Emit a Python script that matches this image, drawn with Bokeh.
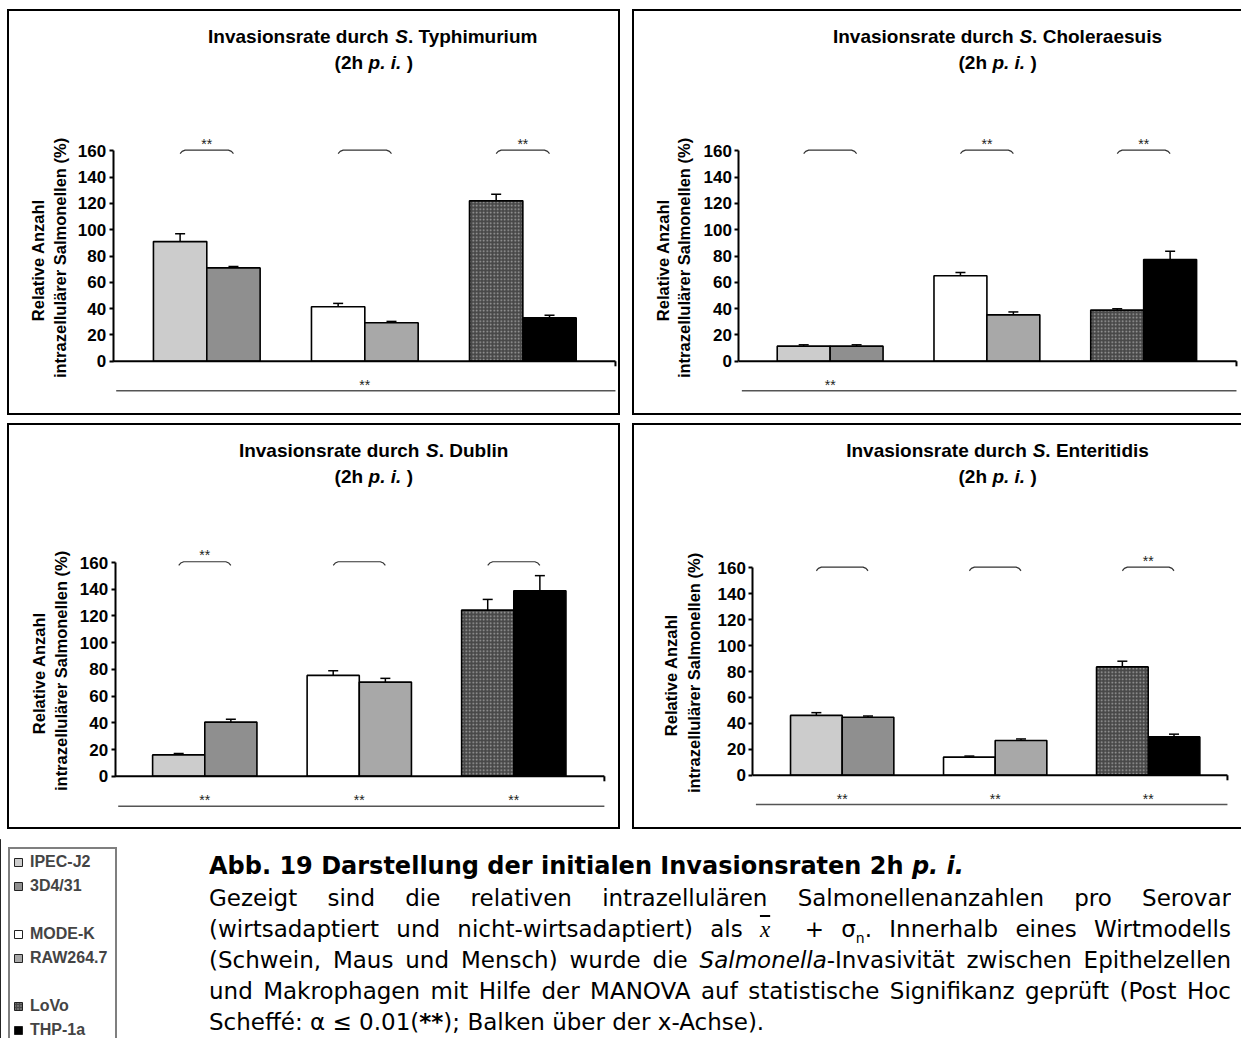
import math
from bokeh.plotting import figure
from bokeh.models import (ColumnDataSource, Whisker, TeeHead, FixedTicker,
                          Legend, LegendItem, Div, Spacer, Range1d)
from bokeh.layouts import row, column
from bokeh.embed import file_html
from bokeh.resources import INLINE
from bokeh.core.properties import value

# ---------------- data ----------------
cell_lines = ["IPEC-J2", "3D4/31", "MODE-K", "RAW264.7", "LoVo", "THP-1a"]
host_models = ["Schwein", "Maus", "Mensch"]
serovars = ["Typhimurium", "Choleraesuis", "Dublin", "Enteritidis"]

typhimurium_mean = [91.0, 71.0, 41.5, 29.3, 122.0, 33.0]
typhimurium_sd = [6.0, 1.0, 2.5, 1.0, 5.0, 2.0]
choleraesuis_mean = [11.5, 11.5, 65.0, 35.3, 38.9, 77.3]
choleraesuis_sd = [1.0, 1.0, 2.5, 2.2, 1.0, 6.4]
dublin_mean = [16.0, 40.5, 75.5, 70.5, 124.4, 138.8]
dublin_sd = [1.0, 2.2, 3.5, 2.8, 8.0, 11.4]
enteritidis_mean = [46.2, 44.7, 14.0, 26.8, 83.6, 29.6]
enteritidis_sd = [2.1, 1.0, 0.8, 1.2, 4.4, 2.1]

# significance epithel vs macrophage within host model (bracket above bars)
typhimurium_pair_sig = [True, False, True]
choleraesuis_pair_sig = [False, True, True]
dublin_pair_sig = [True, False, False]
enteritidis_pair_sig = [False, False, True]
# significance between host models (bar below x axis)
typhimurium_axis_sig = [False, True, False]
choleraesuis_axis_sig = [True, False, False]
dublin_axis_sig = [True, True, True]
enteritidis_axis_sig = [True, True, True]

y_ticks = [0, 20, 40, 60, 80, 100, 120, 140, 160]

# ---------------- styles ----------------
bar_fill = ["#cccccc", "#8f8f8f", "#ffffff", "#a8a8a8", "#484848", "#000000"]
FNAME = "Liberation Sans"
FONT = value(FNAME)
BW = 0.3376  # bar width in group-spacing units
CH = 402     # canvas height of a panel (inside borders)

# Arial/Liberation Sans bold advance widths (1/1000 em)
AW = {' ': 278, '(': 333, ')': 333, '.': 278, '2': 556, 'h': 611, 'p': 611, 'i': 278,
      'I': 278, 'n': 611, 'v': 556, 'a': 556, 's': 556, 'o': 611, 'r': 389, 't': 333,
      'e': 556, 'd': 611, 'u': 611, 'c': 556, 'S': 667, 'T': 611, 'y': 556, 'm': 889,
      'C': 722, 'l': 278, 'D': 722, 'b': 611, 'E': 667}


def tw(s, size):
    return sum(AW.get(c, 556) for c in s) * size / 1000.0


def make_panel(name, means, sds, pair_sig, axis_sig, g, right_border=True):
    cw = g["w"]
    ax_l, ax_r, g0, gs, y160, y0 = g["ax_l"], g["ax_r"], g["g0"], g["gs"], g["y160"], g["y0"]
    ppy = (y0 - y160) / 160.0

    def dx(px):
        return (px - g0) / gs

    def dy(py):
        return 160 + (y160 - py) / ppy

    xa, xb = dx(ax_l), dx(ax_r)   # data x of y-axis and of x-axis end
    bw_px = 4 if right_border else 2
    p = figure(width=cw + bw_px, height=CH + 4,
               x_range=Range1d(dx(0), dx(cw)), y_range=Range1d(dy(CH), dy(0)),
               output_backend="svg", toolbar_location=None, x_axis_location=None,
               min_border_left=0, min_border_right=0,
               min_border_top=0, min_border_bottom=0)
    p.outline_line_color = None
    p.grid.visible = False
    p.background_fill_color = "white"
    p.border_fill_color = "white"
    brd = "2px solid #000"
    p.styles = {"border-top": brd, "border-left": brd, "border-bottom": brd,
                "border-right": brd if right_border else "none"}

    ax = p.yaxis[0]
    ax.fixed_location = xa
    ax.bounds = (0, 160)
    ax.ticker = FixedTicker(ticks=y_ticks)
    ax.minor_tick_line_color = None
    ax.major_tick_in = 0
    ax.major_tick_out = 4
    ax.major_tick_line_width = 2
    ax.axis_line_width = 2
    ax.major_label_standoff = 3
    ax.major_label_text_font = FNAME
    ax.major_label_text_font_size = "17px"
    ax.major_label_text_font_style = "bold"
    ax.major_label_text_color = "black"

    # two-line y label, centred on the 0..160 axis span
    lab_txt = ["Relative  Anzahl", "intrazellulärer Salmonellen (%)"]
    lab_x = [dx(ax_l - g["lab1"]), dx(ax_l - g["lab2"])]
    p.text(x=lab_x, y=[dy(g["laby"])] * 2, text=lab_txt, angle=math.pi / 2,
           text_align="center", text_baseline="middle", text_font=FONT,
           text_font_size="16.5px", text_font_style="bold", text_color="black")

    # bars
    groups = [0, 0, 1, 1, 2, 2]
    side = [-1, 1, -1, 1, -1, 1]
    xs = [gi + si * BW / 2 for gi, si in zip(groups, side)]
    plain = [i for i in range(6) if i != 4]
    src = ColumnDataSource(dict(x=[xs[i] for i in plain], top=[means[i] for i in plain],
                                color=[bar_fill[i] for i in plain]))
    p.vbar(x="x", top="top", bottom=0, width=BW, fill_color="color", line_color="black",
           line_width=1.6, source=src)
    p.vbar(x=[xs[4]], top=[means[4]], bottom=0, width=BW, fill_color=bar_fill[4],
           line_color="black", line_width=1.6, hatch_pattern="dot", hatch_color="#a6a6a6",
           hatch_scale=3.5, hatch_weight=1.3)

    esrc = ColumnDataSource(dict(x=xs, lower=means, upper=[m + s for m, s in zip(means, sds)]))
    p.add_layout(Whisker(source=esrc, base="x", lower="lower", upper="upper",
                         upper_head=TeeHead(size=10, line_width=1.5, line_color="black"),
                         lower_head=None, line_color="black", line_width=1.5))

    # x axis line at 0 with end tick
    p.segment(x0=[xa], y0=[0], x1=[xb], y1=[0], line_color="black", line_width=2)
    p.segment(x0=[xb], y0=[0], x1=[xb], y1=[-5 / ppy], line_color="black", line_width=2)

    # brackets above pairs
    yb = 160.6
    drop = 3.6 / ppy
    cx = [2.0 / gs, 5.0 / gs]
    bxs, bys, sx = [], [], []
    for gi, sig in enumerate(pair_sig):
        xl, xr = gi - BW / 2, gi + BW / 2
        bxs.append([xl, xl + cx[0], xl + cx[1], xr - cx[1], xr - cx[0], xr])
        bys.append([yb - drop, yb - drop * 0.35, yb, yb, yb - drop * 0.35, yb - drop])
        if sig:
            sx.append(gi)
    p.multi_line(xs=bxs, ys=bys, line_color="#333333", line_width=1.2)
    p.text(x=sx, y=[yb + 6.5 / ppy] * len(sx), text=["**"] * len(sx), text_align="center",
           text_baseline="middle", text_font=FONT, text_font_size="14px", text_color="#222222")

    # significance bar below the x axis
    yl = -22.5
    p.segment(x0=[xa + 3.0 / gs], y0=[yl], x1=[xb], y1=[yl],
              line_color="#555555", line_width=1.5)
    ax_sx = [gi for gi, s in enumerate(axis_sig) if s]
    p.text(x=ax_sx, y=[yl + 4.5] * len(ax_sx), text=["**"] * len(ax_sx), text_align="center",
           text_baseline="middle", text_font=FONT, text_font_size="14px", text_color="#222222")

    # two-line title with italic parts
    fs = 19
    ccx = 362
    lines = [
        (24.5, [("Invasionsrate durch ", "bold"), ("S", "bold italic"), (". " + name, "bold")]),
        (50.5, [("(2h ", "bold"), ("p. i.", "bold italic"), (" )", "bold")]),
    ]
    for cy, segs in lines:
        total = sum(tw(s, fs) for s, _ in segs)
        start = ccx - total / 2.0
        for s, st in segs:
            txt = s.strip() if s.strip() else s
            lead = tw(s[:len(s) - len(s.lstrip())], fs)
            p.text(x=[dx(start + lead)], y=[dy(cy)], text=[txt], text_align="left",
                   text_baseline="middle", text_font=FONT, text_font_size=f"{fs}px",
                   text_font_style=st, text_color="black")
            start += tw(s, fs)
    return p


geo1 = dict(w=609, ax_l=103, ax_r=602, g0=196, gs=157.0, y160=138, y0=346.3, lab1=75, lab2=53, laby=244)
geo2 = dict(w=607, ax_l=104, ax_r=600, g0=195, gs=156.25, y160=138, y0=346.3, lab1=76, lab2=55, laby=244)
geo3 = dict(w=609, ax_l=105, ax_r=591, g0=194, gs=153.5, y160=135.7, y0=347.3, lab1=76, lab2=54, laby=243)
geo4 = dict(w=607, ax_l=118, ax_r=591, g0=207, gs=152.5, y160=141, y0=346.3, lab1=82, lab2=59, laby=245)

p1 = make_panel(serovars[0], typhimurium_mean, typhimurium_sd, typhimurium_pair_sig, typhimurium_axis_sig, geo1)
p2 = make_panel(serovars[1], choleraesuis_mean, choleraesuis_sd, choleraesuis_pair_sig, choleraesuis_axis_sig, geo2, right_border=False)
p3 = make_panel(serovars[2], dublin_mean, dublin_sd, dublin_pair_sig, dublin_axis_sig, geo3)
p4 = make_panel(serovars[3], enteritidis_mean, enteritidis_sd, enteritidis_pair_sig, enteritidis_axis_sig, geo4, right_border=False)

# ---------------- legend ----------------
lf = figure(width=125, height=199, output_backend="svg", toolbar_location=None,
            x_axis_location=None, y_axis_location=None, min_border=0,
            x_range=Range1d(0, 1), y_range=Range1d(0, 1))
lf.outline_line_color = None
lf.grid.visible = False
items = []
for i, nm in enumerate(cell_lines):
    kw = {}
    if i == 4:
        kw = dict(hatch_pattern="dot", hatch_color="#a6a6a6", hatch_scale=3.0, hatch_weight=1.2)
    r = lf.vbar(x=[-10], top=[1], width=0.1, fill_color=bar_fill[i], line_color="#222222",
                line_width=1, **kw)
    items.append(LegendItem(label=nm, renderers=[r]))
    if i in (1, 3):
        rb = lf.vbar(x=[-10], top=[1], width=0.1, fill_alpha=0, line_alpha=0)
        items.append(LegendItem(label=" ", renderers=[rb]))
legend = Legend(items=items, location="top_left", margin=8, padding=3, spacing=4,
                label_height=20, glyph_width=10, glyph_height=10, label_standoff=7,
                label_width=82, border_line_color="black", border_line_width=2,
                label_text_font=FNAME, label_text_font_size="16px",
                label_text_font_style="bold", background_fill_color="white",
                background_fill_alpha=1)
lf.add_layout(legend)

# ---------------- caption ----------------
B = "font-size:23px;line-height:31px;"
J = B + "text-align:justify;text-align-last:justify;white-space:nowrap;"
cap_html = (
    "<div style=\"font-family:'DejaVu Sans';color:#000;width:1022px;padding-top:5px;\">"
    "<div style='font-weight:bold;font-size:24px;line-height:34px;white-space:nowrap;'>"
    "Abb. 19 Darstellung der initialen Invasionsraten 2h <i>p. i.</i></div>"
    f"<div style='{J}'>Gezeigt sind die relativen intrazellulären Salmonellenanzahlen pro Serovar</div>"
    f"<div style='{J}'>(wirtsadaptiert und nicht-wirtsadaptiert) als "
    "<span style=\"font-family:'Liberation Serif';font-style:italic;text-decoration:overline;line-height:0;\">x</span>"
    "&nbsp;&nbsp;+ σ<sub style='font-size:14px;line-height:0;'>n</sub>. Innerhalb eines Wirtmodells</div>"
    f"<div style='{J}'>(Schwein, Maus und Mensch) wurde die <i>Salmonella</i>-Invasivität zwischen Epithelzellen</div>"
    f"<div style='{J}'>und Makrophagen mit Hilfe der MANOVA auf statistische Signifikanz geprüft (Post Hoc</div>"
    f"<div style='{B}white-space:nowrap;'>Scheffé: α ≤ 0.01(<b>**</b>); Balken über der x-Achse).</div>"
    "</div>"
)
cap = Div(text=cap_html, width=1022, height=199, styles={"overflow": "hidden"})

layout = column(
    Spacer(height=9),
    row(Spacer(width=7), p1, Spacer(width=12), p2),
    Spacer(height=8),
    row(Spacer(width=7), p3, Spacer(width=12), p4),
    Spacer(height=10),
    row(lf, Spacer(width=79), cap),
)

open("out.html", "w").write(file_html(layout, INLINE))
